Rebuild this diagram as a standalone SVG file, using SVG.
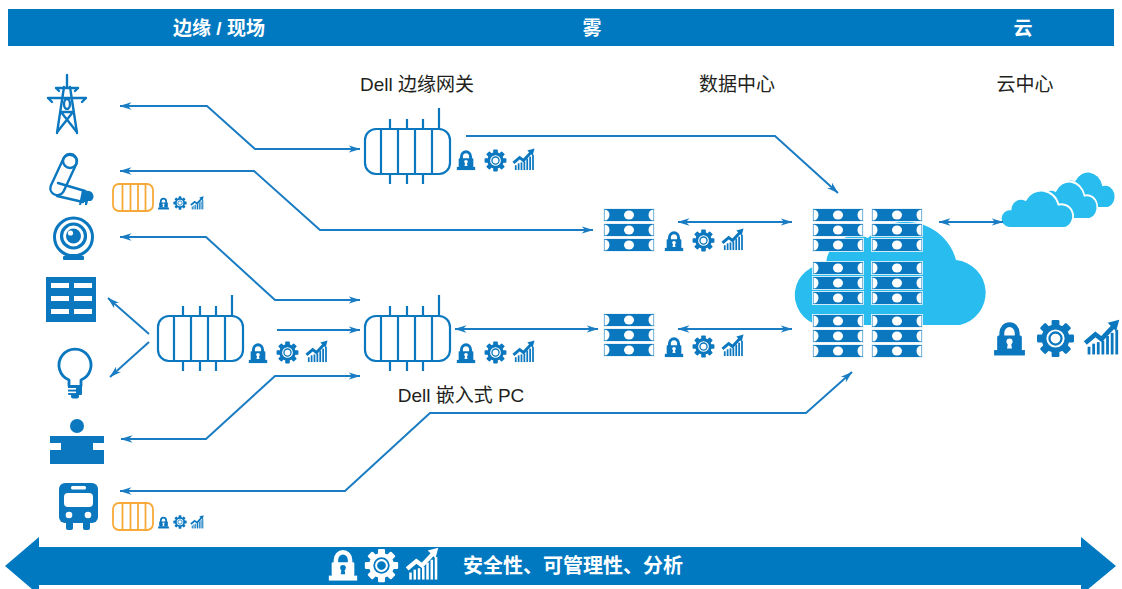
<svg xmlns="http://www.w3.org/2000/svg" xmlns:xlink="http://www.w3.org/1999/xlink" width="1122" height="589" viewBox="0 0 1122 589">
  <style>
    .txt { font-family: "Liberation Sans", "Noto Sans CJK SC", sans-serif; }
    .hd { fill: #ffffff; font-size: 19px; font-weight: bold; text-anchor: middle; }
    .lbl { fill: #231f20; font-size: 19px; text-anchor: middle; }
    .foot { fill: #ffffff; font-size: 20px; font-weight: bold; }
    .blue { fill: #0a77bf; color: #0a77bf; }
    .wh { color: #ffffff; --hole: #0079c1; }
    .hole { fill: var(--hole, #ffffff); }
    .icon-line { fill: none; stroke: #0a77bf; stroke-linecap: round; stroke-linejoin: round; }
    .conn { fill: none; stroke: #1a7cc2; stroke-width: 2; stroke-linejoin: miter; }
    .cloud { fill: #29bdef; }
    .cloud-sm { fill: #29bdef; stroke: #ffffff; stroke-width: 2.5; }
  </style>
  <defs>
    <marker id="ah" viewBox="0 0 12 8" refX="11.5" refY="4" markerWidth="12" markerHeight="8" markerUnits="userSpaceOnUse" orient="auto-start-reverse">
      <path d="M0,0.3 L12,4 L0,7.7 L3.5,4 Z" fill="#1a7cc2"/>
    </marker>

    <!-- padlock -->
    <symbol id="lock" viewBox="0 0 24 24">
      <path d="M7,11 V8.5 A5,5.5 0 0 1 17,8.5 V11" fill="none" stroke="currentColor" stroke-width="3.2"/>
      <rect x="4" y="10" width="16" height="10" rx="1" fill="currentColor"/>
      <rect x="2" y="19.5" width="20" height="3.5" fill="currentColor"/>
      <circle class="hole" cx="12" cy="14" r="2"/>
      <path class="hole" d="M11,15 L13,15 L13.6,18.5 L10.4,18.5 Z"/>
    </symbol>

    <!-- gear -->
    <symbol id="gear" viewBox="0 0 24 24">
      <g fill="currentColor">
        <circle cx="12" cy="12" r="8.6"/>
        <rect x="9.6" y="0.6" width="4.8" height="22.8" rx="0.8"/>
        <rect x="9.6" y="0.6" width="4.8" height="22.8" rx="0.8" transform="rotate(45 12 12)"/>
        <rect x="9.6" y="0.6" width="4.8" height="22.8" rx="0.8" transform="rotate(90 12 12)"/>
        <rect x="9.6" y="0.6" width="4.8" height="22.8" rx="0.8" transform="rotate(135 12 12)"/>
      </g>
      <circle class="hole" cx="12" cy="12" r="5.6"/>
      <circle cx="12" cy="12" r="3.7" fill="none" stroke="currentColor" stroke-width="1.4"/>
    </symbol>

    <!-- rising chart -->
    <symbol id="chart" viewBox="0 0 24 24">
      <g fill="currentColor">
        <rect x="3" y="18" width="1.8" height="5"/>
        <rect x="6" y="16" width="1.8" height="7"/>
        <rect x="9" y="15" width="1.8" height="8"/>
        <rect x="12" y="14" width="1.8" height="9"/>
        <rect x="15" y="11" width="1.8" height="12"/>
        <rect x="18" y="9" width="1.8" height="14"/>
        <rect x="21" y="7" width="1.8" height="16"/>
        <path d="M16,2.5 L23.5,0.5 L21.5,8 Z"/>
      </g>
      <polyline points="1.5,15.5 8,10 12,13 19.5,5" fill="none" stroke="currentColor" stroke-width="3"/>
    </symbol>

    <!-- one server slot -->
    <symbol id="row" viewBox="0 0 52 14">
      <rect x="0.5" y="0.5" width="51" height="13" fill="#0a77bf" stroke="#ffffff" stroke-width="0.8"/>
      <path d="M1.5,1.5 A5,5.5 0 0 1 1.5,12.5 Z" fill="#fff"/>
      <path d="M50.5,1.5 A5,5.5 0 0 0 50.5,12.5 Z" fill="#fff"/>
      <ellipse cx="26" cy="7" rx="5" ry="4.6" fill="#fff"/>
    </symbol>

    <!-- blue gateway device -->
    <g id="gw" fill="none" stroke="#0a77bf" stroke-width="2.2">
      <rect x="0" y="0" width="85" height="45" rx="11"/>
      <path d="M16,0 V45 M33,0 V45 M50,0 V45 M67,0 V45"/>
      <path d="M25,-10 V0 M42,-10 V0 M58,-10 V0 M74,-21 V0"/>
      <path d="M25,45 V55 M42,45 V55 M58,45 V55"/>
    </g>

    <!-- orange edge device -->
    <g id="og" fill="none" stroke="#f7aa3a" stroke-width="1.8">
      <rect x="0" y="0" width="40" height="27" rx="6"/>
      <path d="M9.5,0 V27 M17.5,0 V27 M25,0 V27 M32.5,0 V27"/>
    </g>

    <path id="cloudp" d="M12,50 A12,12 0 0 1 14,26 A14,14 0 0 1 34,14 A24,24 0 0 1 78,20 A15,15 0 0 1 86,50 Z"/>
  </defs>

  <!-- header band -->
  <g id="header">
    <rect x="8" y="9" width="1106" height="37" fill="#0079c1"/>
    <text class="txt hd" x="219" y="35">边缘 / 现场</text>
    <text class="txt hd" x="592" y="35">雾</text>
    <text class="txt hd" x="1023" y="35">云</text>
  </g>

  <!-- column labels -->
  <g id="labels">
    <text class="txt lbl" x="417" y="91">Dell 边缘网关</text>
    <text class="txt lbl" x="737" y="91">数据中心</text>
    <text class="txt lbl" x="1025" y="91">云中心</text>
    <text class="txt lbl" x="461" y="402">Dell 嵌入式 PC</text>
  </g>

  <!-- field devices -->
  <g id="tower" class="icon-line" stroke-width="2.4">
    <path d="M67,75 V87"/>
    <path d="M56,88 H78 M56,88 L59,91 M78,88 L75,91"/>
    <path d="M48,98 H86 M48,98 L52,102 M86,98 L82,102"/>
    <path d="M64,87 L57,133 M70,87 L77,133"/>
    <ellipse cx="67" cy="104" rx="3" ry="5"/>
    <path d="M61,112 H73 M61,112 L76,131 M73,112 L58,131"/>
  </g>

  <g id="robot-arm">
    <path class="icon-line" stroke-width="2.4" d="M63.7,158.1 A7,7 0 0 1 76.3,163.9 L63.3,191.9 A7,7 0 0 1 50.7,186.1 Z"/>
    <circle class="icon-line" stroke-width="2.4" cx="70" cy="161" r="7"/>
    <path class="icon-line" stroke-width="2.4" d="M58,183 L85,191 M57,196 L83,202"/>
    <path class="blue" d="M82,190 L89,191 A5.5,5.5 0 0 1 91,201 L88,201 L87,205 L85,205 L85,202 L82,202 L81,205 L79,205 L80,200 Z"/>
  </g>

  <g id="webcam">
    <circle class="icon-line" stroke-width="3" cx="73.5" cy="237" r="19"/>
    <circle class="icon-line" stroke-width="3.2" cx="73.5" cy="236" r="12"/>
    <circle class="blue" cx="73.5" cy="236" r="7.5"/>
    <circle cx="70.5" cy="233" r="2.6" fill="#fff"/>
    <rect class="blue" x="70" y="254" width="7" height="4"/>
    <rect class="blue" x="63" y="256" width="21" height="4" rx="1"/>
  </g>

  <g id="panel">
    <rect class="blue" x="46" y="277" width="50" height="45"/>
    <g fill="#fff">
      <rect x="51" y="283" width="18" height="5"/>
      <rect x="74" y="283" width="18" height="5"/>
      <rect x="51" y="296" width="18" height="5"/>
      <rect x="74" y="296" width="18" height="5"/>
      <rect x="51" y="309" width="18" height="5"/>
      <rect x="74" y="309" width="18" height="5"/>
    </g>
  </g>

  <g id="bulb">
    <path class="icon-line" stroke-width="2.8" d="M69,386 V380 A16,16 0 1 1 81,380 V386"/>
    <rect class="blue" x="68" y="385" width="14" height="10" rx="1"/>
    <rect x="68" y="388" width="8" height="1.6" fill="#fff"/>
    <rect x="68" y="391.5" width="8" height="1.6" fill="#fff"/>
    <rect class="blue" x="71" y="394" width="8" height="4.5" rx="2"/>
  </g>

  <g id="operator" class="blue">
    <circle cx="77" cy="426" r="7"/>
    <rect x="50" y="436" width="54" height="7"/>
    <rect x="61" y="443" width="32" height="7"/>
    <rect x="50" y="450" width="54" height="14"/>
  </g>

  <g id="bus">
    <rect class="blue" x="59" y="483" width="39" height="40" rx="6"/>
    <rect x="71" y="486" width="15" height="3.5" rx="1.5" fill="#fff"/>
    <rect x="64" y="493" width="29" height="14" rx="4" fill="#fff"/>
    <circle cx="69" cy="515" r="3.3" fill="#fff"/>
    <circle cx="88" cy="515" r="3.3" fill="#fff"/>
    <rect class="blue" x="66" y="521" width="7" height="9" rx="2"/>
    <rect class="blue" x="83" y="521" width="7" height="9" rx="2"/>
  </g>

  <!-- small edge devices beside the arm and the bus -->
  <g id="edge-dev-1" class="blue">
    <use href="#og" x="113" y="184"/>
    <use href="#lock" x="157" y="197" width="13" height="13"/>
    <use href="#gear" x="173" y="196" width="14" height="14"/>
    <use href="#chart" x="190" y="196" width="14" height="14"/>
  </g>
  <g id="edge-dev-2" class="blue">
    <use href="#og" x="113" y="503"/>
    <use href="#lock" x="157" y="516" width="13" height="13"/>
    <use href="#gear" x="173" y="515" width="14" height="14"/>
    <use href="#chart" x="190" y="515" width="14" height="14"/>
  </g>

  <!-- gateways -->
  <g id="gateway-dell" class="blue">
    <use href="#gw" x="365" y="129"/>
    <use href="#lock" x="455" y="149" width="22" height="22"/>
    <use href="#gear" x="484" y="149" width="23" height="23"/>
    <use href="#chart" x="512" y="148" width="23" height="23"/>
  </g>
  <g id="gateway-left" class="blue">
    <use href="#gw" x="158" y="316"/>
    <use href="#lock" x="247" y="342" width="22" height="22"/>
    <use href="#gear" x="276" y="341" width="23" height="23"/>
    <use href="#chart" x="305" y="340" width="23" height="23"/>
  </g>
  <g id="embedded-pc" class="blue">
    <use href="#gw" x="365" y="316"/>
    <use href="#lock" x="455" y="342" width="22" height="22"/>
    <use href="#gear" x="484" y="341" width="23" height="23"/>
    <use href="#chart" x="512" y="340" width="23" height="23"/>
  </g>

  <!-- fog server stacks -->
  <g id="fog-server-1" class="blue">
    <use href="#row" x="603" y="208" width="52" height="14"/>
    <use href="#row" x="603" y="223" width="52" height="14"/>
    <use href="#row" x="603" y="238" width="52" height="14"/>
    <use href="#lock" x="663" y="230" width="22" height="22"/>
    <use href="#gear" x="692" y="229" width="23" height="23"/>
    <use href="#chart" x="721" y="228" width="23" height="23"/>
  </g>
  <g id="fog-server-2" class="blue">
    <use href="#row" x="603" y="313" width="52" height="14"/>
    <use href="#row" x="603" y="328" width="52" height="14"/>
    <use href="#row" x="603" y="343" width="52" height="14"/>
    <use href="#lock" x="663" y="336" width="22" height="22"/>
    <use href="#gear" x="692" y="335" width="23" height="23"/>
    <use href="#chart" x="721" y="334" width="23" height="23"/>
  </g>

  <!-- data centre inside the cloud -->
  <g id="data-center">
    <path class="cloud" d="M818,325 A31,31 0 0 1 826,264 A30,30 0 0 1 868,238 A52,52 0 0 1 956,260 A33,33 0 0 1 960,325 Z"/>
    <g>
      <use href="#row" x="812" y="208" width="52" height="14"/>
      <use href="#row" x="812" y="223" width="52" height="14"/>
      <use href="#row" x="812" y="238" width="52" height="14"/>
      <use href="#row" x="812" y="261" width="52" height="14"/>
      <use href="#row" x="812" y="276" width="52" height="14"/>
      <use href="#row" x="812" y="291" width="52" height="14"/>
      <use href="#row" x="812" y="314" width="52" height="14"/>
      <use href="#row" x="812" y="329" width="52" height="14"/>
      <use href="#row" x="812" y="344" width="52" height="14"/>
      <use href="#row" x="871" y="208" width="52" height="14"/>
      <use href="#row" x="871" y="223" width="52" height="14"/>
      <use href="#row" x="871" y="238" width="52" height="14"/>
      <use href="#row" x="871" y="261" width="52" height="14"/>
      <use href="#row" x="871" y="276" width="52" height="14"/>
      <use href="#row" x="871" y="291" width="52" height="14"/>
      <use href="#row" x="871" y="314" width="52" height="14"/>
      <use href="#row" x="871" y="329" width="52" height="14"/>
      <use href="#row" x="871" y="344" width="52" height="14"/>
    </g>
  </g>

  <!-- public cloud -->
  <g id="cloud-center">
    <use href="#cloudp" class="cloud-sm" vector-effect="non-scaling-stroke" transform="translate(1053,170) scale(0.64,0.76)"/>
    <use href="#cloudp" class="cloud-sm" vector-effect="non-scaling-stroke" transform="translate(1033,180) scale(0.66,0.78)"/>
    <use href="#cloudp" class="cloud-sm" vector-effect="non-scaling-stroke" transform="translate(1000,189) scale(0.75,0.78)"/>
    <g class="blue">
      <use href="#lock" x="991" y="320" width="37" height="37"/>
      <use href="#gear" x="1036" y="319" width="39" height="39"/>
      <use href="#chart" x="1083" y="319" width="37" height="37"/>
    </g>
  </g>

  <!-- connectors -->
  <g id="connectors">
    <polyline class="conn" marker-start="url(#ah)" marker-end="url(#ah)" points="120,106 207,106 255,149 360,149"/>
    <polyline class="conn" marker-end="url(#ah)" points="466,136 775,136 838,193"/>
    <polyline class="conn" marker-start="url(#ah)" marker-end="url(#ah)" points="120,171 254,171 320,230 593,230"/>
    <polyline class="conn" marker-start="url(#ah)" marker-end="url(#ah)" points="120,237 206,237 275,300 360,300"/>
    <line class="conn" marker-end="url(#ah)" x1="149" y1="334" x2="108" y2="298"/>
    <line class="conn" marker-end="url(#ah)" x1="149" y1="342" x2="110" y2="377"/>
    <line class="conn" marker-end="url(#ah)" x1="277" y1="330" x2="360" y2="330"/>
    <polyline class="conn" marker-start="url(#ah)" marker-end="url(#ah)" points="121,439 206,439 275,376 360,376"/>
    <polyline class="conn" marker-start="url(#ah)" marker-end="url(#ah)" points="120,491 345,491 430,413 806,413 852,372"/>
    <line class="conn" marker-start="url(#ah)" marker-end="url(#ah)" x1="455" y1="329" x2="598" y2="329"/>
    <line class="conn" marker-start="url(#ah)" marker-end="url(#ah)" x1="678" y1="222" x2="792" y2="222"/>
    <line class="conn" marker-start="url(#ah)" marker-end="url(#ah)" x1="678" y1="329" x2="792" y2="329"/>
    <line class="conn" marker-start="url(#ah)" marker-end="url(#ah)" x1="939" y1="222" x2="1003" y2="222"/>
  </g>

  <!-- bottom band -->
  <g id="footer">
    <polygon fill="#0079c1" points="5,566 39,537 39,547 1081,547 1081,537 1116,566 1081,595 1081,585 39,585 39,595"/>
    <g class="wh">
      <use href="#lock" x="326" y="548" width="34" height="34"/>
      <use href="#gear" x="364" y="548" width="35" height="35"/>
      <use href="#chart" x="405" y="547" width="34" height="34"/>
    </g>
    <text class="txt foot" x="463" y="573">安全性、可管理性、分析</text>
  </g>
</svg>
